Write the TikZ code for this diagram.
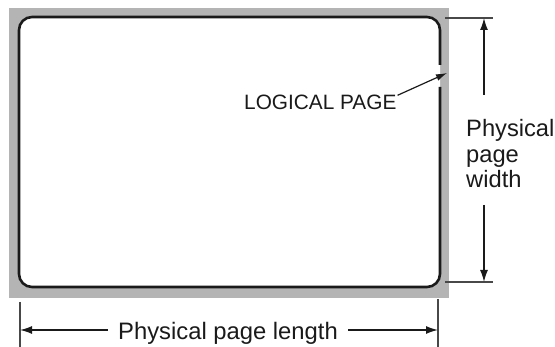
\documentclass[tikz,border=0pt]{standalone}
\usepackage{fontspec}
\setmainfont{Liberation Sans}
\usetikzlibrary{arrows.meta}
\definecolor{pagegray}{HTML}{B4B4B4}
\definecolor{ink}{HTML}{1A1A1A}
\tikzset{
  dimline/.style={draw=ink, line width=1.4pt},
  dimarrow/.style={dimline, -{Latex[length=12pt,width=8pt]}},
  extline/.style={draw=ink!80, line width=1.3pt},
  label/.style={inner sep=1pt, text=ink},
}
\begin{document}
\begin{tikzpicture}[x=1pt, y=-1pt]
\useasboundingbox (0,0) rectangle (555,347);
% physical page (grey sheet)
\fill[pagegray] (9,8) rectangle (449,298);
% logical page area
\fill[white, rounded corners=13pt] (19,17) rectangle (440,287);
\draw[ink, line width=2.6pt, rounded corners=13pt]
  (440,87) -- (440,287) -- (19,287) -- (19,17) -- (440,17) -- (440,65);
% logical page label with pointer
\node[label, anchor=base west, font=\fontsize{20.8}{24}\selectfont] (lp) at (243,110) {LOGICAL PAGE};
\coordinate (lptip) at (447,73);
\draw[dimline, line width=1.2pt, -{Latex[length=11pt,width=7pt]}] (lp.north east) ++(0,1) -- (lptip);
% physical page width
\coordinate (wtop) at (445,18);
\coordinate (wtopend) at (493,18);
\coordinate (wbot) at (445,282);
\coordinate (wbotend) at (493,282);
\draw[extline] (wtop) -- (wtopend);
\draw[extline] (wbot) -- (wbotend);
% base anchor of a multi-line node sits on its last line
\node[label, anchor=base west, align=left, font=\fontsize{23.7}{25.5}\selectfont] (pw) at (465,188) {Physical\\page\\width};
\coordinate (wup) at (484,95);
\coordinate (wdn) at (484,205);
\draw[dimarrow] (wup) -- (wup |- wtop);
\draw[dimarrow] (wdn) -- (wdn |- wbot);
% physical page length
\coordinate (lleft) at (20,302);
\coordinate (lleftend) at (20,347);
\coordinate (lright) at (438,299);
\coordinate (lrightend) at (438,347);
\draw[extline] (lleft) -- (lleftend);
\draw[extline] (lright) -- (lrightend);
\node[label, anchor=base, font=\fontsize{23.8}{26}\selectfont] (pl) at (228,340) {Physical page length};
\draw[dimarrow] ([xshift=-9pt]pl.west |- 0,330) -- (lleft |- 0,330);
\draw[dimarrow] ([xshift=9pt]pl.east |- 0,330) -- (lright |- 0,330);
\end{tikzpicture}
\end{document}
